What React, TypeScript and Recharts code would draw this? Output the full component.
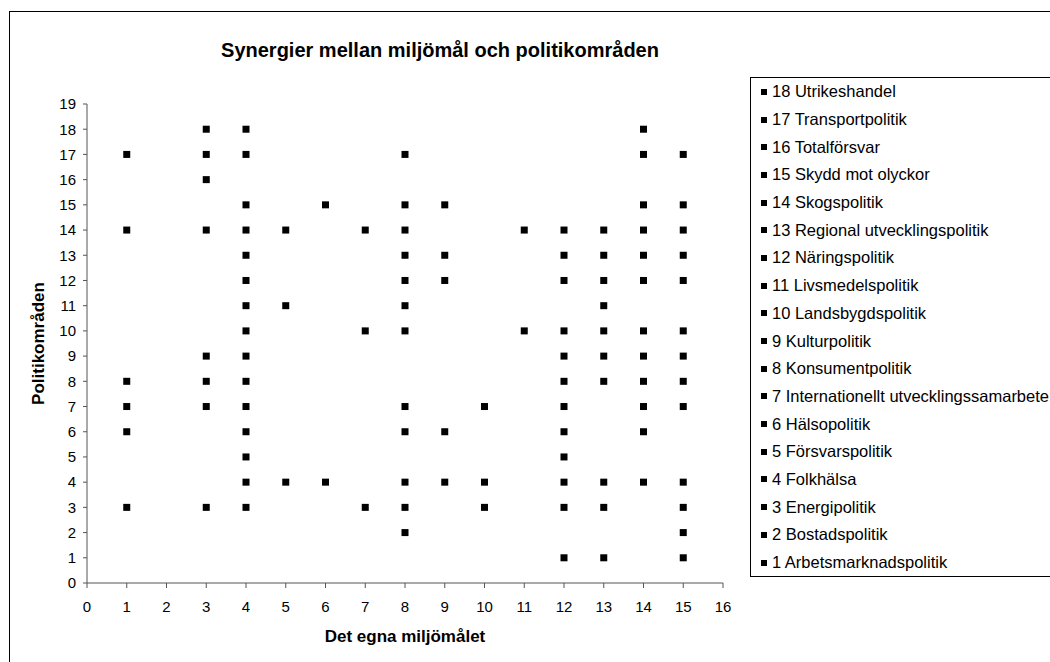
import React from 'react';
import {
  ScatterChart,
  Scatter,
  XAxis,
  YAxis,
  Legend,
} from 'recharts';

// politikområden, numbered 1..18 (y value)
const policyAreas = [
  'Arbetsmarknadspolitik',
  'Bostadspolitik',
  'Energipolitik',
  'Folkhälsa',
  'Försvarspolitik',
  'Hälsopolitik',
  'Internationellt utvecklingssamarbete',
  'Konsumentpolitik',
  'Kulturpolitik',
  'Landsbygdspolitik',
  'Livsmedelspolitik',
  'Näringspolitik',
  'Regional utvecklingspolitik',
  'Skogspolitik',
  'Skydd mot olyckor',
  'Totalförsvar',
  'Transportpolitik',
  'Utrikeshandel',
];

// miljömål (x value) with synergy, one list per politikområde
const synergyGoals: number[][] = [
  [12, 13, 15],
  [8, 15],
  [1, 3, 4, 7, 8, 10, 12, 13, 15],
  [4, 5, 6, 8, 9, 10, 12, 13, 14, 15],
  [4, 12],
  [1, 4, 8, 9, 12, 14],
  [1, 3, 4, 8, 10, 12, 14, 15],
  [1, 3, 4, 12, 13, 14, 15],
  [3, 4, 12, 13, 14, 15],
  [4, 7, 8, 11, 12, 13, 14, 15],
  [4, 5, 8, 13],
  [4, 8, 9, 12, 13, 14, 15],
  [4, 8, 9, 12, 13, 14, 15],
  [1, 3, 4, 5, 7, 8, 11, 12, 13, 14, 15],
  [4, 6, 8, 9, 14, 15],
  [3],
  [1, 3, 4, 8, 14, 15],
  [3, 4, 14],
];

const xTicks = [0, 1, 2, 3, 4, 5, 6, 7, 8, 9, 10, 11, 12, 13, 14, 15, 16];
const yTicks = [0, 1, 2, 3, 4, 5, 6, 7, 8, 9, 10, 11, 12, 13, 14, 15, 16, 17, 18, 19];

const FONT = '"Liberation Sans", Arial, sans-serif';

const series = policyAreas
  .map((name, i) => ({
    name: `${i + 1} ${name}`,
    data: synergyGoals[i].map((x) => ({ x, y: i + 1 })),
  }))
  .reverse();

const SquareDot = (props: any) => {
  const { cx, cy } = props;
  if (cx == null || cy == null) return null;
  return <rect x={cx - 3.5} y={cy - 3.5} width={7} height={7} fill="#000" />;
};

const renderLegend = (props: any) => {
  // recharts sorts by name; put them back in number order, 18 first
  const items = [...(props.payload || [])].sort(
    (a: any, b: any) => parseInt(b.value, 10) - parseInt(a.value, 10)
  );
  return (
    <div
      style={{
        border: '1px solid #000',
        background: '#fff',
        fontFamily: FONT,
        fontSize: 16.5,
        color: '#000',
        whiteSpace: 'nowrap',
      }}
    >
      {items.map((entry: any) => (
        <div
          key={entry.value}
          style={{ height: 27.7, display: 'flex', alignItems: 'center' }}
        >
          <span
            style={{
              display: 'inline-block',
              width: 6,
              height: 6,
              background: '#000',
              marginLeft: 10,
              marginRight: 5,
            }}
          />
          <span>{entry.value}</span>
        </div>
      ))}
    </div>
  );
};

const YTitle = (props: any) => {
  const { viewBox } = props;
  const cx = viewBox.x + 11;
  const cy = viewBox.y + viewBox.height / 2;
  return (
    <text
      x={cx}
      y={cy}
      transform={`rotate(-90, ${cx}, ${cy})`}
      textAnchor="middle"
      dominantBaseline="central"
      fontFamily={FONT}
      fontSize={17}
      fontWeight="bold"
      fill="#000"
    >
      Politikområden
    </text>
  );
};

export default function App() {
  return (
    <div
      style={{
        position: 'absolute',
        left: 0,
        top: 0,
        width: 1050,
        height: 662,
        overflow: 'hidden',
        background: '#fff',
      }}
    >
      <div
        style={{
          position: 'absolute',
          left: 9,
          top: 11,
          width: 1100,
          height: 700,
          border: '1.5px solid #000',
        }}
      />
      <div
        style={{
          position: 'absolute',
          left: 0,
          top: 38,
          width: 880,
          textAlign: 'center',
          fontFamily: FONT,
          fontSize: 20,
          fontWeight: 'bold',
          lineHeight: '24px',
          color: '#000',
        }}
      >
        Synergier mellan miljömål och politikområden
      </div>
      <div style={{ position: 'absolute', left: 0, top: 0 }}>
        <ScatterChart
          width={1050}
          height={662}
          margin={{ top: 104, right: 327, bottom: 49, left: 27 }}
        >
          <XAxis
            type="number"
            dataKey="x"
            domain={[0, 16]}
            ticks={xTicks}
            interval={0}
            height={30}
            tickSize={5}
            tickMargin={13}
            stroke="#555"
            tick={{ fill: '#000', fontSize: 15, fontFamily: FONT }}
            label={{
              value: 'Det egna miljömålet',
              position: 'bottom',
              offset: 17,
              fill: '#000',
              fontSize: 17,
              fontWeight: 'bold',
              fontFamily: FONT,
            }}
          />
          <YAxis
            type="number"
            dataKey="y"
            domain={[0, 19]}
            ticks={yTicks}
            interval={0}
            width={60}
            tickSize={4}
            tickMargin={7}
            stroke="#555"
            tick={{ fill: '#000', fontSize: 15, fontFamily: FONT }}
            label={{ content: <YTitle /> }}
          />
          <Legend
            layout="horizontal"
            verticalAlign="middle"
            align="center"
            content={renderLegend}
            wrapperStyle={{ left: 750, top: 77, width: 340 }}
          />
          {series.map((s) => (
            <Scatter
              key={s.name}
              name={s.name}
              data={s.data}
              fill="#000"
              shape={SquareDot}
              isAnimationActive={false}
            />
          ))}
        </ScatterChart>
      </div>
    </div>
  );
}
